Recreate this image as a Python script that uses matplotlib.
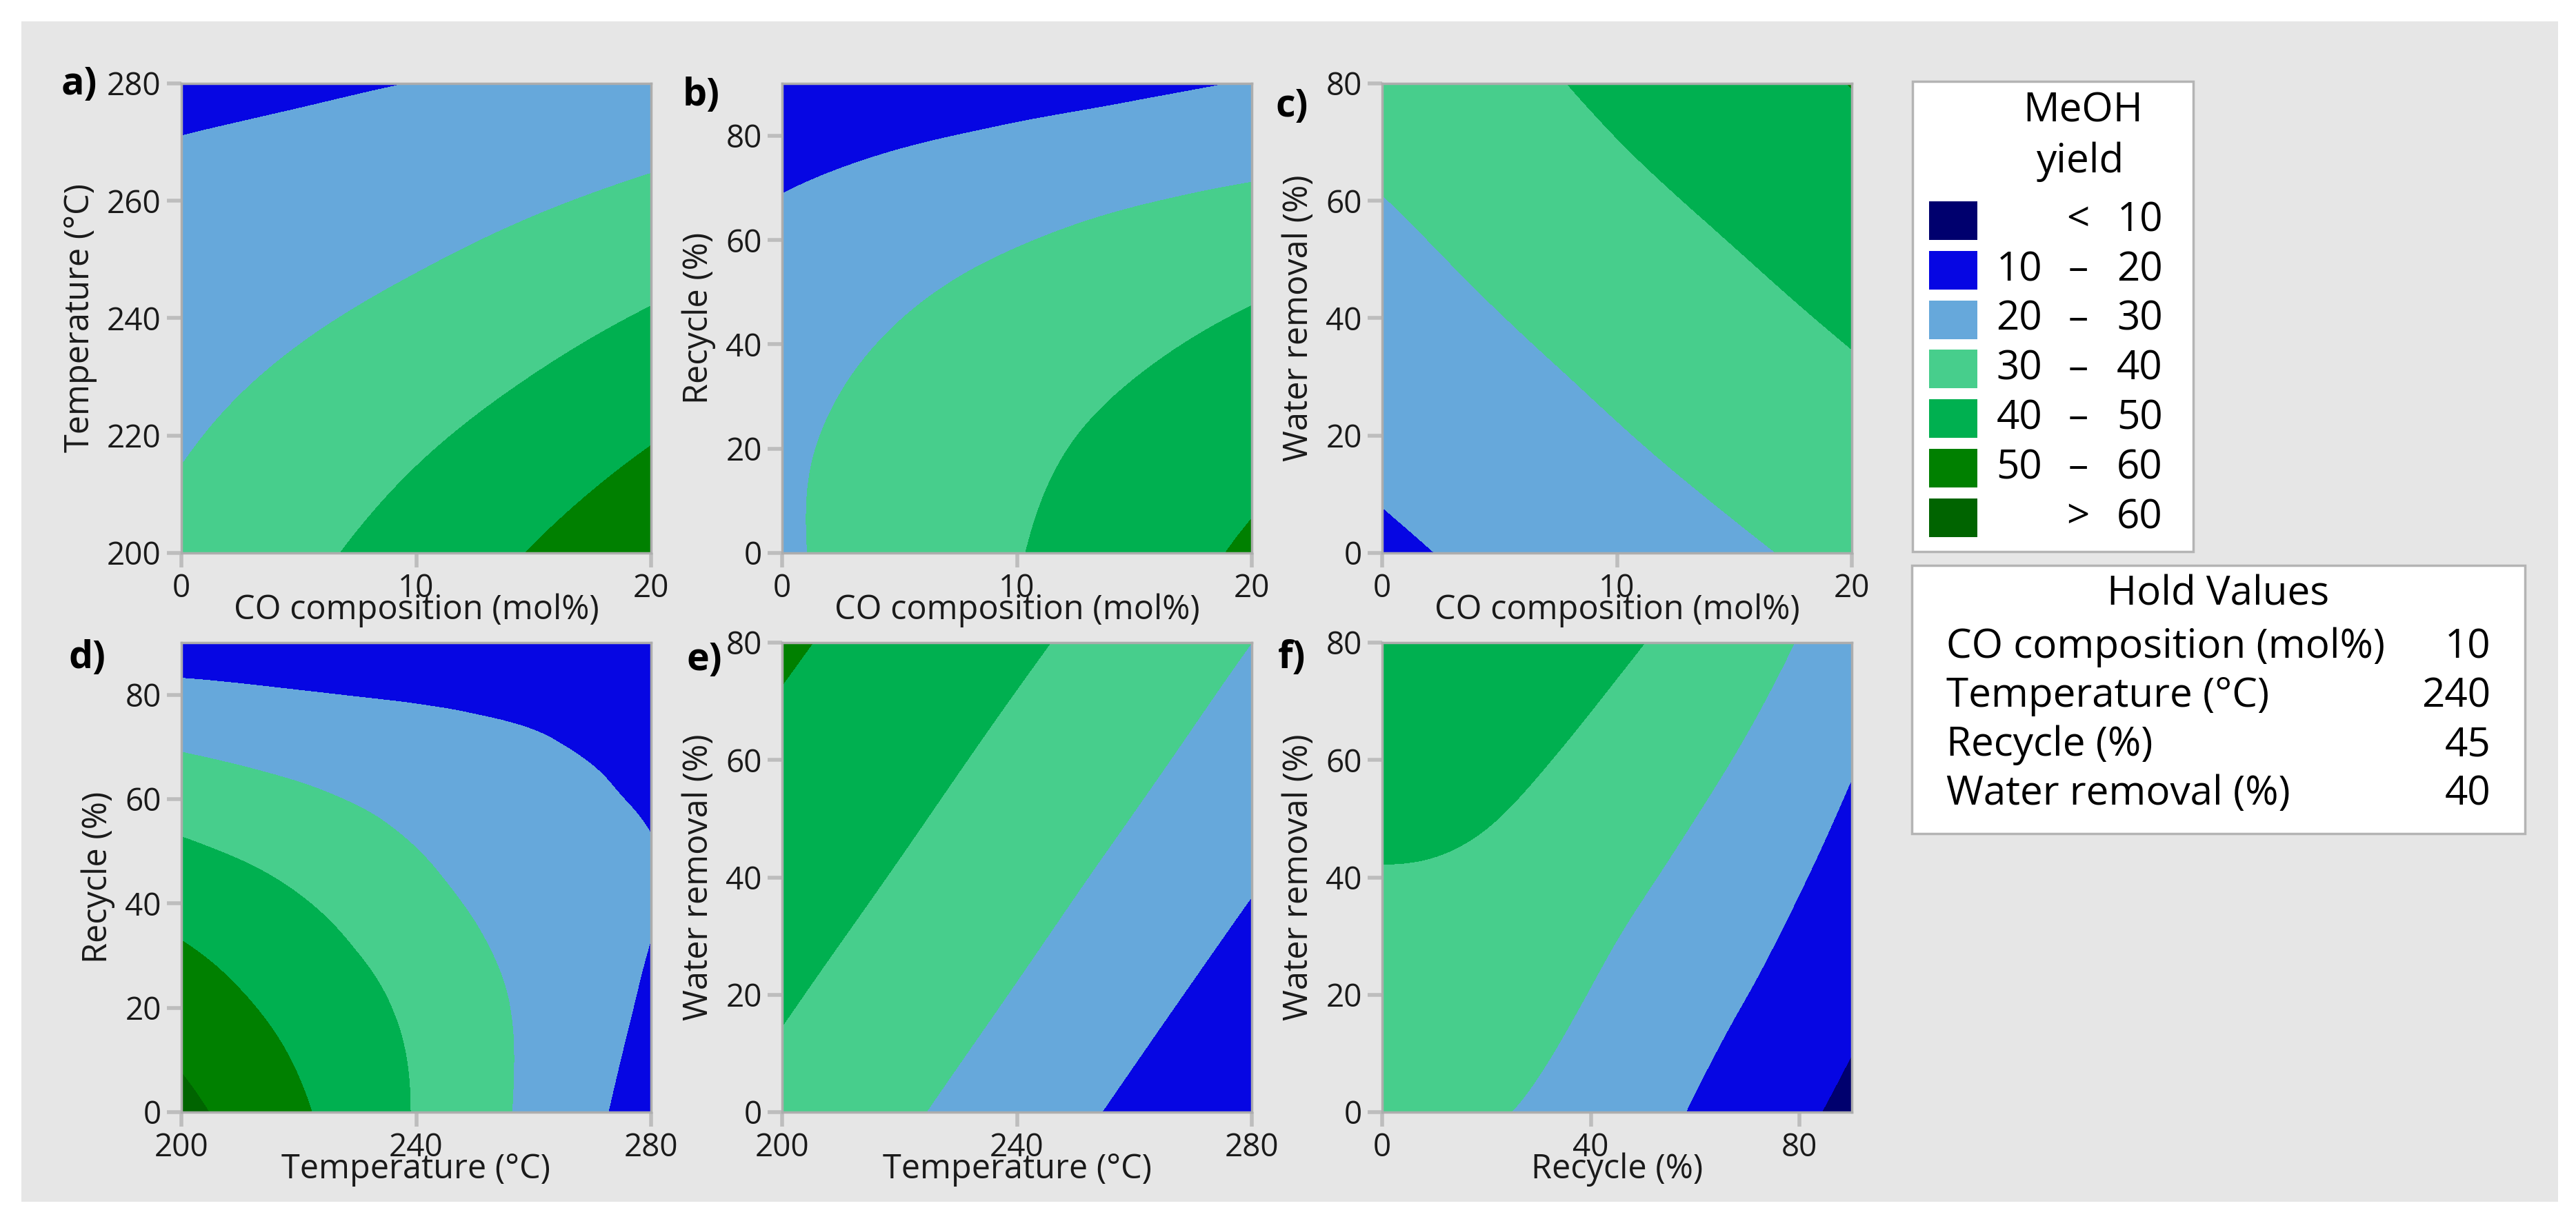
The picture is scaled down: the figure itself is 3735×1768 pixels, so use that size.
import numpy as np
import matplotlib
matplotlib.use("Agg")
import matplotlib.pyplot as plt
import matplotlib.tri as mtri
from matplotlib.patches import Rectangle

plt.rcParams['font.family'] = ['Open Sans', 'DejaVu Sans']

co_grid = [0, 5, 10, 15, 20]
temp_grid = [200, 220, 240, 260, 280]
recycle_grid = [0, 22.5, 45, 67.5, 90]
water_grid = [0, 20, 40, 60, 80]

# MeOH yield read at the grid points: rows follow the y factor (low -> high),
# columns follow the x factor (low -> high)
yield_a = [[32.3, 37.9, 44.0, 50.5, 57.5],   # CO vs Temperature
           [29.2, 33.6, 38.5, 43.7, 49.3],
           [25.9, 28.9, 32.4, 36.5, 40.9],
           [22.2, 24.0, 26.2, 29.0, 32.1],
           [18.2, 18.9, 20.1, 21.3, 23.1]]
yield_b = [[28.9, 34.1, 39.6, 45.3, 51.4],   # CO vs Recycle
           [28.6, 33.0, 37.6, 42.2, 46.6],
           [25.8, 29.9, 33.5, 37.1, 40.8],
           [20.4, 23.9, 26.9, 29.5, 31.7],
           [12.6, 14.2, 16.0, 18.1, 20.5]]
yield_c = [[18.5, 21.9, 25.4, 28.8, 32.2],   # CO vs Water removal
           [22.3, 25.8, 29.5, 33.1, 36.7],
           [26.0, 29.8, 33.6, 37.4, 41.2],
           [29.8, 33.7, 37.8, 41.7, 45.7],
           [33.5, 37.5, 41.9, 46.1, 50.2]]
yield_d = [[62.6, 51.3, 39.4, 27.8, 15.4],   # Temperature vs Recycle
           [54.4, 46.3, 37.6, 27.8, 18.9],
           [44.2, 38.7, 31.7, 24.8, 20.4],
           [31.0, 27.7, 24.4, 21.3, 18.4],
           [15.0, 14.5, 14.5, 14.8, 14.2]]
yield_e = [[37.2, 31.4, 25.0, 18.0, 10.5],   # Temperature vs Water removal
           [41.0, 35.5, 29.5, 22.9, 15.8],
           [44.5, 39.4, 33.7, 27.5, 20.8],
           [47.8, 43.0, 37.7, 31.9, 25.5],
           [51.3, 46.4, 41.5, 36.0, 30.0]]
yield_f = [[33.3, 30.4, 24.9, 16.3, 7.9],    # Recycle vs Water removal
           [36.3, 34.2, 28.2, 20.9, 12.2],
           [39.6, 38.0, 32.3, 25.3, 16.4],
           [43.5, 41.9, 36.8, 29.8, 20.7],
           [47.3, 45.7, 41.4, 34.6, 24.9]]

yield_levels = [-100, 10, 20, 30, 40, 50, 60, 200]
band_colors = ['#00006E', '#0606E3', '#66A8DB', '#47CE8C', '#00B050', '#008000', '#006400']
band_low = ['', '10', '20', '30', '40', '50', '']
band_mid = ['<', '–', '–', '–', '–', '–', '>']
band_high = ['10', '20', '30', '40', '50', '60', '60']

hold_names = ['CO composition (mol%)', 'Temperature (°C)', 'Recycle (%)', 'Water removal (%)']
hold_values = ['10', '240', '45', '40']

lbl_co = 'CO composition (mol%)'
lbl_t = 'Temperature (°C)'
lbl_r = 'Recycle (%)'
lbl_w = 'Water removal (%)'

W, H = 3735, 1768
fig = plt.figure(figsize=(W / 100, H / 100), dpi=100)
fig.patch.set_facecolor('white')


def fx(x):
    return x / W


def fy(y):
    return 1 - y / H


fig.patches.append(Rectangle((fx(31), fy(1743)), fx(3709 - 31), (1743 - 31) / H,
                             transform=fig.transFigure, facecolor='#E6E6E6',
                             edgecolor='none', zorder=-10))


def smooth_contour(ax, xg, yg, z):
    nx, ny = len(xg), len(yg)
    gx, gy = np.meshgrid(np.linspace(0, 1, nx), np.linspace(0, 1, ny))
    tris = []
    for j in range(ny - 1):
        for i in range(nx - 1):
            p = j * nx + i
            tris.append([p, p + 1, p + nx + 1])
            tris.append([p, p + nx + 1, p + nx])
    tri = mtri.Triangulation(gx.ravel(), gy.ravel(), np.array(tris))
    fine, zf = mtri.UniformTriRefiner(tri).refine_field(np.asarray(z, float).ravel(), subdiv=5)
    xf = xg[0] + fine.x * (xg[-1] - xg[0])
    yf = yg[0] + fine.y * (yg[-1] - yg[0])
    tri2 = mtri.Triangulation(xf, yf, fine.triangles)
    ax.tricontourf(tri2, zf, levels=yield_levels, colors=band_colors, antialiased=False)


panels = [
    ('a)', co_grid, temp_grid, yield_a, lbl_co, lbl_t, (0, 20), (200, 280), [0, 10, 20], [200, 220, 240, 260, 280], 0, 0, (89, 122)),
    ('b)', co_grid, recycle_grid, yield_b, lbl_co, lbl_r, (0, 20), (0, 90), [0, 10, 20], [0, 20, 40, 60, 80], 0, 1, (990, 138)),
    ('c)', co_grid, water_grid, yield_c, lbl_co, lbl_w, (0, 20), (0, 80), [0, 10, 20], [0, 20, 40, 60, 80], 0, 2, (1850, 155)),
    ('d)', temp_grid, recycle_grid, yield_d, lbl_t, lbl_r, (200, 280), (0, 90), [200, 240, 280], [0, 20, 40, 60, 80], 1, 0, (100, 955)),
    ('e)', temp_grid, water_grid, yield_e, lbl_t, lbl_w, (200, 280), (0, 80), [200, 240, 280], [0, 20, 40, 60, 80], 1, 1, (996, 958)),
    ('f)', recycle_grid, water_grid, yield_f, lbl_r, lbl_w, (0, 90), (0, 80), [0, 40, 80], [0, 20, 40, 60, 80], 1, 2, (1853, 955)),
]

lefts = [263, 1134, 2004]
tops = [121, 932]
size = 681

for tag, xg, yg, z, xl, yl, xlim, ylim, xt, yt, row, col, tagpos in panels:
    l, t = lefts[col], tops[row]
    ax = fig.add_axes([fx(l), fy(t + size), size / W, size / H])
    smooth_contour(ax, xg, yg, z)
    ax.set_xlim(xlim)
    ax.set_ylim(ylim)
    ax.set_xticks(xt)
    ax.set_yticks(yt)
    ax.tick_params(direction='out', length=15, width=4, color='#BDBDBD',
                   labelsize=33, labelcolor='#1A1A1A', pad=6)
    for sp in ax.spines.values():
        sp.set_color('#ADADAD')
        sp.set_linewidth(2.5)
    ax.set_xlabel(xl, fontsize=35, color='#1A1A1A')
    ax.xaxis.set_label_coords(0.5, -83 / size)
    ax.xaxis.label.set_verticalalignment('center')
    ax.set_ylabel(yl, fontsize=35, color='#1A1A1A', labelpad=10)
    fig.text(fx(tagpos[0]), fy(tagpos[1]), tag, fontsize=40, fontweight='bold',
             ha='left', va='center')

# colour key
fig.patches.append(Rectangle((fx(2773), fy(800)), (3180 - 2773) / W, (800 - 118) / H,
                             transform=fig.transFigure, facecolor='white',
                             edgecolor='#B4B4B4', linewidth=2.5, zorder=1))
fig.text(fx(3020), fy(161), 'MeOH', fontsize=42, ha='center', va='center')
fig.text(fx(3017), fy(235), 'yield', fontsize=42, ha='center', va='center')
for i in range(len(band_colors)):
    yc = 320 + i * 71.8
    fig.patches.append(Rectangle((fx(2797), fy(yc + 28)), 70 / W, 56 / H,
                                 transform=fig.transFigure, facecolor=band_colors[i],
                                 edgecolor='none', zorder=2))
    fig.text(fx(2961), fy(yc), band_low[i], fontsize=42, ha='right', va='center')
    fig.text(fx(3013), fy(yc), band_mid[i], fontsize=42, ha='center', va='center')
    fig.text(fx(3136), fy(yc), band_high[i], fontsize=42, ha='right', va='center')

# hold values box
fig.patches.append(Rectangle((fx(2772), fy(1209)), (3661 - 2772) / W, (1209 - 820) / H,
                             transform=fig.transFigure, facecolor='white',
                             edgecolor='#B4B4B4', linewidth=2.5, zorder=1))
fig.text(fx(3216), fy(862), 'Hold Values', fontsize=42, ha='center', va='center')
for i, (name, val) in enumerate(zip(hold_names, hold_values)):
    yc = 939 + i * 71
    fig.text(fx(2822), fy(yc), name, fontsize=42, ha='left', va='center')
    fig.text(fx(3611), fy(yc), val, fontsize=42, ha='right', va='center')

fig.savefig('out.png', dpi=100, facecolor='white')
